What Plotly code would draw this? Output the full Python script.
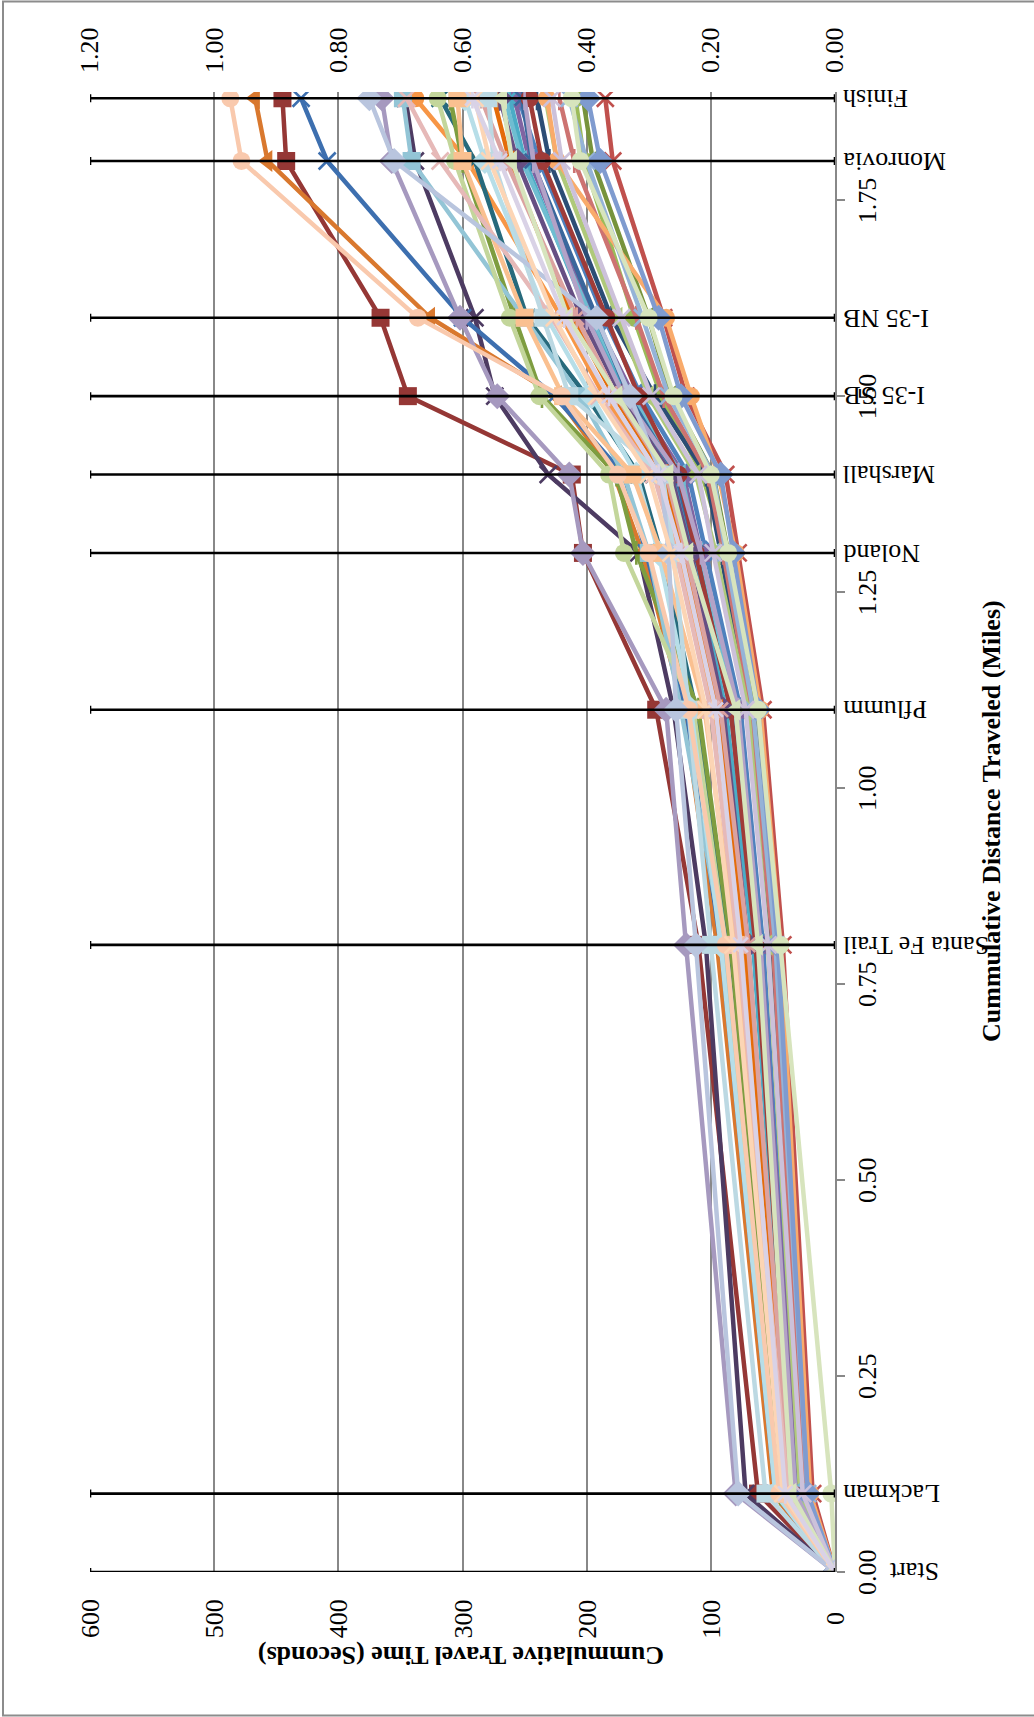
import plotly.graph_objects as go

# Cumulative distance (miles) of each timing point along the corridor
STOPS = ["Start", "Lackman", "Santa Fe Trail", "Pflumm", "Noland", "Marshall",
         "I-35 SB", "I-35 NB", "Monrovia", "Finish"]
DIST = [0.00, 0.10, 0.80, 1.10, 1.30, 1.40, 1.50, 1.60, 1.80, 1.88]

# Time axis (seconds) and the matching secondary scale
TIME_TICKS = [0, 100, 200, 300, 400, 500, 600]
RATIO_TICKS = [0.00, 0.20, 0.40, 0.60, 0.80, 1.00, 1.20]
DIST_TICKS = [0.00, 0.25, 0.50, 0.75, 1.00, 1.25, 1.50, 1.75]

# Cumulative travel time (seconds) for each run at each timing point
run01 = [0, 30, 58, 76, 104, 118, 156, 186, 238, 255]
run02 = [0, 18, 42, 58, 78, 88, 120, 138, 179, 185]
run03 = [0, 25, 50, 66, 88, 107, 140, 162, 202, 209]
run04 = [0, 30, 60, 80, 108, 122, 162, 194, 246, 258]
run05 = [0, 34, 66, 88, 115, 130, 168, 198, 250, 262]
run06 = [0, 36, 74, 98, 126, 144, 186, 220, 296, 338]
run07 = [0, 26, 52, 70, 92, 104, 145, 180, 230, 240]
run08 = [0, 62, 110, 144, 203, 212, 344, 366, 442, 445]
run09 = [0, 24, 48, 64, 86, 98, 132, 150, 195, 203]
run10 = [0, 72, 104, 130, 158, 231, 274, 290, 338, 346]
run11 = [0, 42, 86, 112, 140, 158, 200, 248, 290, 318]
run12 = [0, 50, 95, 122, 155, 178, 224, 326, 457, 467]
run13 = [0, 48, 92, 120, 152, 170, 226, 300, 409, 430]
run14 = [0, 24, 50, 68, 90, 102, 138, 160, 210, 222]
run15 = [0, 28, 54, 70, 96, 112, 150, 175, 224, 233]
run16 = [0, 80, 120, 136, 203, 214, 272, 302, 357, 365]
run17 = [0, 32, 62, 82, 110, 124, 164, 196, 252, 266]
run18 = [0, 20, 44, 60, 80, 94, 116, 136, 224, 232]
run19 = [0, 33, 63, 84, 112, 128, 166, 192, 244, 252]
run20 = [0, 34, 64, 84, 112, 126, 158, 184, 236, 246]
run21 = [0, 44, 84, 110, 160, 176, 236, 258, 300, 310]
run22 = [0, 38, 70, 90, 116, 132, 172, 204, 256, 270]
run23 = [0, 45, 90, 124, 150, 170, 205, 250, 341, 348]
run24 = [0, 38, 72, 94, 122, 138, 178, 212, 262, 275]
run25 = [0, 22, 48, 66, 88, 98, 134, 155, 200, 214]
run26 = [0, 36, 70, 92, 120, 136, 176, 208, 265, 285]
run27 = [0, 46, 88, 114, 170, 182, 238, 262, 306, 320]
run28 = [0, 32, 60, 78, 108, 126, 170, 200, 243, 250]
run29 = [0, 48, 92, 116, 142, 160, 196, 232, 282, 298]
run30 = [0, 40, 80, 105, 140, 163, 219, 250, 300, 304]
run31 = [0, 22, 46, 62, 82, 92, 124, 142, 189, 199]
run32 = [0, 38, 78, 100, 128, 146, 190, 228, 318, 345]
run33 = [0, 3, 44, 62, 86, 100, 130, 150, 205, 212]
run34 = [0, 26, 54, 72, 98, 110, 148, 172, 220, 228]
run35 = [0, 56, 100, 118, 130, 139, 214, 235, 275, 279]
run36 = [0, 45, 88, 118, 150, 175, 220, 336, 478, 487]
run37 = [0, 78, 112, 128, 134, 140, 165, 192, 355, 375]
run38 = [0, 35, 62, 80, 118, 134, 175, 215, 260, 268]
run39 = [0, 42, 82, 104, 132, 150, 192, 226, 278, 290]
run40 = [0, 40, 76, 96, 124, 142, 182, 218, 270, 292]

RUNS = [run01, run02, run03, run04, run05, run06, run07, run08, run09, run10,
        run11, run12, run13, run14, run15, run16, run17, run18, run19, run20,
        run21, run22, run23, run24, run25, run26, run27, run28, run29, run30,
        run31, run32, run33, run34, run35, run36, run37, run38, run39, run40]

# Office-style series colours and marker shapes
COLORS = ["#4F81BD", "#C0504D", "#9BBB59", "#8064A2", "#4BACC6", "#F79646",
          "#2C4D75", "#953735", "#77933C", "#4D3B62", "#276A7C", "#D9782E",
          "#3D6FAF", "#CD7371", "#AFC97A", "#A699BF", "#6FBDD1", "#F9AB6B",
          "#3A679C", "#9F3B38", "#7E9D40", "#664F83", "#93C5D6", "#E46C0A",
          "#95B3D7", "#DBA2A0", "#C3D69B", "#B3A2C7", "#B7DEE8", "#FAC090",
          "#7F9BCF", "#E6B9B8", "#D7E4BD", "#CCC1DA", "#BCD9E3", "#F9C9AD",
          "#B9C5DE", "#D7E4BD", "#FCD5B5", "#D9D2E6"]
SYMBOLS = ["diamond", "x-thin", "circle", "square", "asterisk", "circle",
           "cross-thin", "square", "triangle-left", "x-thin", "x-thin", "triangle-left",
           "x-thin", "cross-thin", "triangle-left", "diamond", "triangle-left", "circle",
           "asterisk", "circle", "cross-thin", "diamond", "square", "triangle-left",
           "x-thin", "asterisk", "circle", "cross-thin", "diamond", "square",
           "diamond", "x-thin", "circle", "x-thin", "square", "circle",
           "diamond", "triangle-left", "x-thin", "asterisk"]
SIZES = {"diamond": 20, "square": 18, "circle": 18, "triangle-left": 19,
         "x-thin": 17, "asterisk": 17, "cross-thin": 17}

FONT = "Liberation Serif, Times New Roman, serif"
GRID = "#888888"
CLEAR = "rgba(0,0,0,0)"

# Plot-area geometry (pixels)
W, H = 1034, 1717
ML, MR, MT, MB = 90, 199, 92, 145
PW, PH = W - ML - MR, H - MT - MB


def px_x(px):
    return (px - ML) / PW


def px_y(py):
    return (H - MB - py) / PH


fig = go.Figure()

for vals, color, sym in zip(RUNS, COLORS, SYMBOLS):
    thin = sym in ("x-thin", "asterisk", "cross-thin")
    fig.add_trace(go.Scatter(
        x=vals, y=DIST, mode="lines+markers",
        line=dict(color=color, width=4.5),
        marker=dict(symbol=sym, size=SIZES[sym], color=color,
                    line=dict(color=color, width=2.6 if thin else 0)),
        showlegend=False, hoverinfo="skip",
    ))

# Black bars marking each timing point across the full time range
t_max = TIME_TICKS[-1]
fig.add_trace(go.Scatter(
    x=[t_max / 2] * len(DIST), y=DIST, mode="markers",
    marker=dict(size=1, color=CLEAR),
    error_x=dict(type="constant", value=t_max / 2, color="black",
                 thickness=2.6, width=4),
    showlegend=False, hoverinfo="skip",
))

# Invisible trace so the secondary ratio axis is drawn
fig.add_trace(go.Scatter(x=[RATIO_TICKS[0]], y=[DIST[0]], xaxis="x2",
                         mode="markers", marker=dict(opacity=0),
                         showlegend=False, hoverinfo="skip"))

tick_font = dict(family=FONT, size=26, color="black")

fig.update_layout(
    width=W, height=H, autosize=False,
    margin=dict(l=ML, r=MR, t=MT, b=MB, pad=0),
    paper_bgcolor="white", plot_bgcolor="white",
    xaxis=dict(
        range=[TIME_TICKS[-1], TIME_TICKS[0]], tickvals=TIME_TICKS,
        showticklabels=False, ticks="", showline=False,
        showgrid=True, gridcolor=GRID, gridwidth=1.5, zeroline=False,
    ),
    xaxis2=dict(
        overlaying="x", side="top", anchor="y",
        range=[RATIO_TICKS[-1], RATIO_TICKS[0]], tickvals=RATIO_TICKS,
        ticktext=[f"{v:.2f}" for v in RATIO_TICKS], tickangle=-90,
        tickfont=tick_font, ticks="", showline=False, showgrid=False,
        zeroline=False, ticklabelstandoff=18,
    ),
    yaxis=dict(
        range=[0, 1.888], side="right", tickvals=DIST_TICKS,
        showticklabels=False, ticks="outside", ticklen=8, tickwidth=1.5,
        tickcolor=GRID, showline=True, linecolor=GRID, linewidth=2,
        showgrid=False, zeroline=False,
    ),
)

annotations = []
# Time tick labels under the plot, turned to read upward
for t in TIME_TICKS:
    annotations.append(dict(
        text=str(t), x=t, y=px_y(1619), xref="x", yref="paper",
        xanchor="center", yanchor="middle", textangle=-90, showarrow=False,
        font=tick_font,
    ))

# Distance tick labels right of the axis, turned to read upward
for d in DIST_TICKS:
    annotations.append(dict(
        text=f"{d:.2f}", x=px_x(867), y=d, xref="paper", yref="y",
        xanchor="center", yanchor="middle", textangle=-90, showarrow=False,
        font=tick_font,
    ))

# Timing point names beside the distance axis
for name, d in zip(STOPS, DIST):
    left = 887 if name == "Start" else 841
    annotations.append(dict(
        text=name, x=px_x(left), y=d, xref="paper", yref="y",
        xanchor="left", yanchor="middle", textangle=180, showarrow=False,
        font=dict(family=FONT, size=26, color="black"),
    ))

annotations.append(dict(
    text="<b>Cummulative Distance Traveled (Miles)</b>",
    x=px_x(991), y=px_y(821), xref="paper", yref="paper",
    xanchor="center", yanchor="middle", textangle=-90, showarrow=False,
    font=dict(family=FONT, size=26, color="black"),
))
annotations.append(dict(
    text="<b>Cummulative Travel Time (Seconds)</b>",
    x=px_x(461), y=px_y(1656), xref="paper", yref="paper",
    xanchor="center", yanchor="middle", textangle=180, showarrow=False,
    font=dict(family=FONT, size=26, color="black"),
))
fig.update_layout(annotations=annotations)

# Chart-area frame
fig.add_shape(type="rect", xref="paper", yref="paper",
              x0=px_x(3), x1=px_x(W + 10), y0=px_y(H - 1.5), y1=px_y(1.5),
              line=dict(color="#8c8c8c", width=2), fillcolor=CLEAR,
              layer="below")

fig.write_html("out.html")
